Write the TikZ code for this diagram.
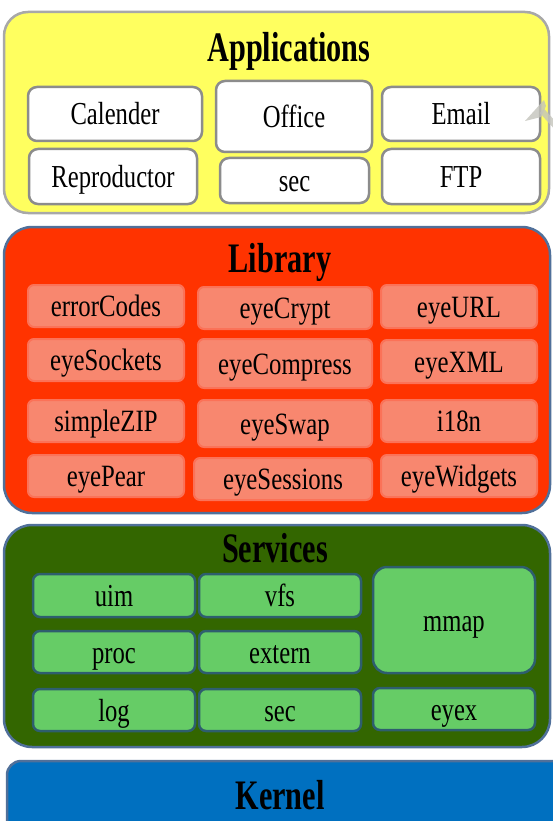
\documentclass[tikz,border=0pt]{standalone}
\usepackage{fontspec}
\setmainfont{Liberation Serif}
\newfontfamily\itemfont[FakeStretch=0.77]{Liberation Serif}
\newfontfamily\libfont[FakeStretch=0.8]{Liberation Serif}
\newfontfamily\headfont[FakeStretch=0.72]{Liberation Serif}

\definecolor{appfill}{HTML}{FFFF5F}
\definecolor{appedge}{HTML}{A8A8A8}
\definecolor{itemedge}{HTML}{8C8C8C}
\definecolor{libfill}{HTML}{FF3300}
\definecolor{layeredge}{HTML}{50709A}
\definecolor{libitem}{HTML}{F8876F}
\definecolor{libitemedge}{HTML}{FB7258}
\definecolor{svcfill}{HTML}{336600}
\definecolor{svcitem}{HTML}{66CC66}
\definecolor{svcitemedge}{HTML}{2E5E6E}
\definecolor{kernfill}{HTML}{0070C0}
\definecolor{markgray}{HTML}{C4C4BC}

\tikzset{
  layer/.style={draw, line width=2.5pt, rounded corners=24pt, inner sep=0pt},
  heading/.style={anchor=base, inner sep=0pt, font=\headfont\bfseries\fontsize{42}{42}\selectfont},
  itembase/.style={inner sep=0pt, text height=22pt, text depth=0pt,
    font=\itemfont\fontsize{32}{32}\selectfont},
  appitem/.style={itembase, draw=itemedge, fill=white, line width=2.5pt, rounded corners=9pt},
  libbox/.style={itembase, draw=libitemedge, fill=libitem, line width=2pt, rounded corners=6pt,
    text height=21pt, font=\libfont\fontsize{31}{31}\selectfont},
  svcbox/.style={itembase, draw=svcitemedge, fill=svcitem, line width=2.5pt, rounded corners=7pt}
}

\begin{document}
\begin{tikzpicture}[x=1pt, y=-1pt]
\useasboundingbox (0,0) rectangle (553,821);
\clip (0,0) rectangle (553,821);

% ---------- Applications ----------
\node[layer, draw=appedge, fill=appfill, minimum width=545, minimum height=201] (apps) at (276.5,112.5) {};
\node[heading] (appsT) at (289,62) {Applications};
\node[appitem, minimum width=174, minimum height=54] (cal)    at (115,114)   {Calender};
\node[appitem, minimum width=156, minimum height=71] (office) at (294,116.5) {Office};
\node[appitem, minimum width=158, minimum height=54] (email)  at (461,114)   {Email};
\node[appitem, minimum width=168, minimum height=55] (repro)  at (113,176.5) {Reproductor};
\node[appitem, minimum width=149, minimum height=45] (asec)   at (294.5,180.5) {sec};
\node[appitem, minimum width=158, minimum height=55] (ftp)    at (461,176.5) {FTP};
% faint pointer mark beside the Email box
\fill[markgray, opacity=0.8] (525,121) -- (544,100) -- (546,106) -- (541,117) -- cycle;
\draw[markgray, opacity=0.8, line width=6pt] (542,111) -- (562,133);

% ---------- Library ----------
\node[layer, draw=layeredge, fill=libfill, rounded corners=28pt, minimum width=546, minimum height=286] (lib) at (277,370) {};
\node[heading] (libT) at (280,272) {Library};
\node[libbox, minimum width=156, minimum height=42] (errc)  at (106,306)   {errorCodes};
\node[libbox, minimum width=174, minimum height=42] (crypt) at (285,308)   {eyeCrypt};
\node[libbox, minimum width=156, minimum height=43] (url)   at (459,306.5) {eyeURL};
\node[libbox, minimum width=156, minimum height=42] (sock)  at (106,360)   {eyeSockets};
\node[libbox, minimum width=174, minimum height=49] (comp)  at (285,363.5) {eyeCompress};
\node[libbox, minimum width=156, minimum height=43] (xml)   at (459,361.5) {eyeXML};
\node[libbox, minimum width=156, minimum height=42] (zip)   at (106,421)   {simpleZIP};
\node[libbox, minimum width=174, minimum height=47] (swap)  at (285,423.5) {eyeSwap};
\node[libbox, minimum width=156, minimum height=42] (intl)  at (459,421)   {i18n};
\node[libbox, minimum width=156, minimum height=42] (pear)  at (106,476)   {eyePear};
\node[libbox, minimum width=178, minimum height=42] (sess)  at (283,479)   {eyeSessions};
\node[libbox, minimum width=156, minimum height=42] (widg)  at (459,476)   {eyeWidgets};

% ---------- Services ----------
\node[layer, draw=layeredge, fill=svcfill, rounded corners=28pt, minimum width=546, minimum height=222] (svc) at (277,636) {};
\node[heading] (svcT) at (275,562) {Services};
\node[svcbox, minimum width=162, minimum height=43] (uim)  at (114,595.5) {uim};
\node[svcbox, minimum width=162, minimum height=43] (vfs)  at (280,595.5) {vfs};
\node[svcbox, rounded corners=14pt, minimum width=162, minimum height=106] (mmap) at (454,620) {mmap};
\node[svcbox, minimum width=162, minimum height=42] (proc) at (114,652) {proc};
\node[svcbox, minimum width=162, minimum height=42] (ext)  at (280,652) {extern};
\node[svcbox, minimum width=162, minimum height=42] (log)  at (114,710) {log};
\node[svcbox, minimum width=162, minimum height=42] (ssec) at (280,710) {sec};
\node[svcbox, minimum width=162, minimum height=42] (eyex) at (454,709) {eyex};

% ---------- Kernel ----------
\node[layer, draw=layeredge, fill=kernfill, rounded corners=14pt, minimum width=573, minimum height=99] (kern) at (293.5,810.5) {};
\node[heading] (kernT) at (280,809) {Kernel};
\end{tikzpicture}
\end{document}
